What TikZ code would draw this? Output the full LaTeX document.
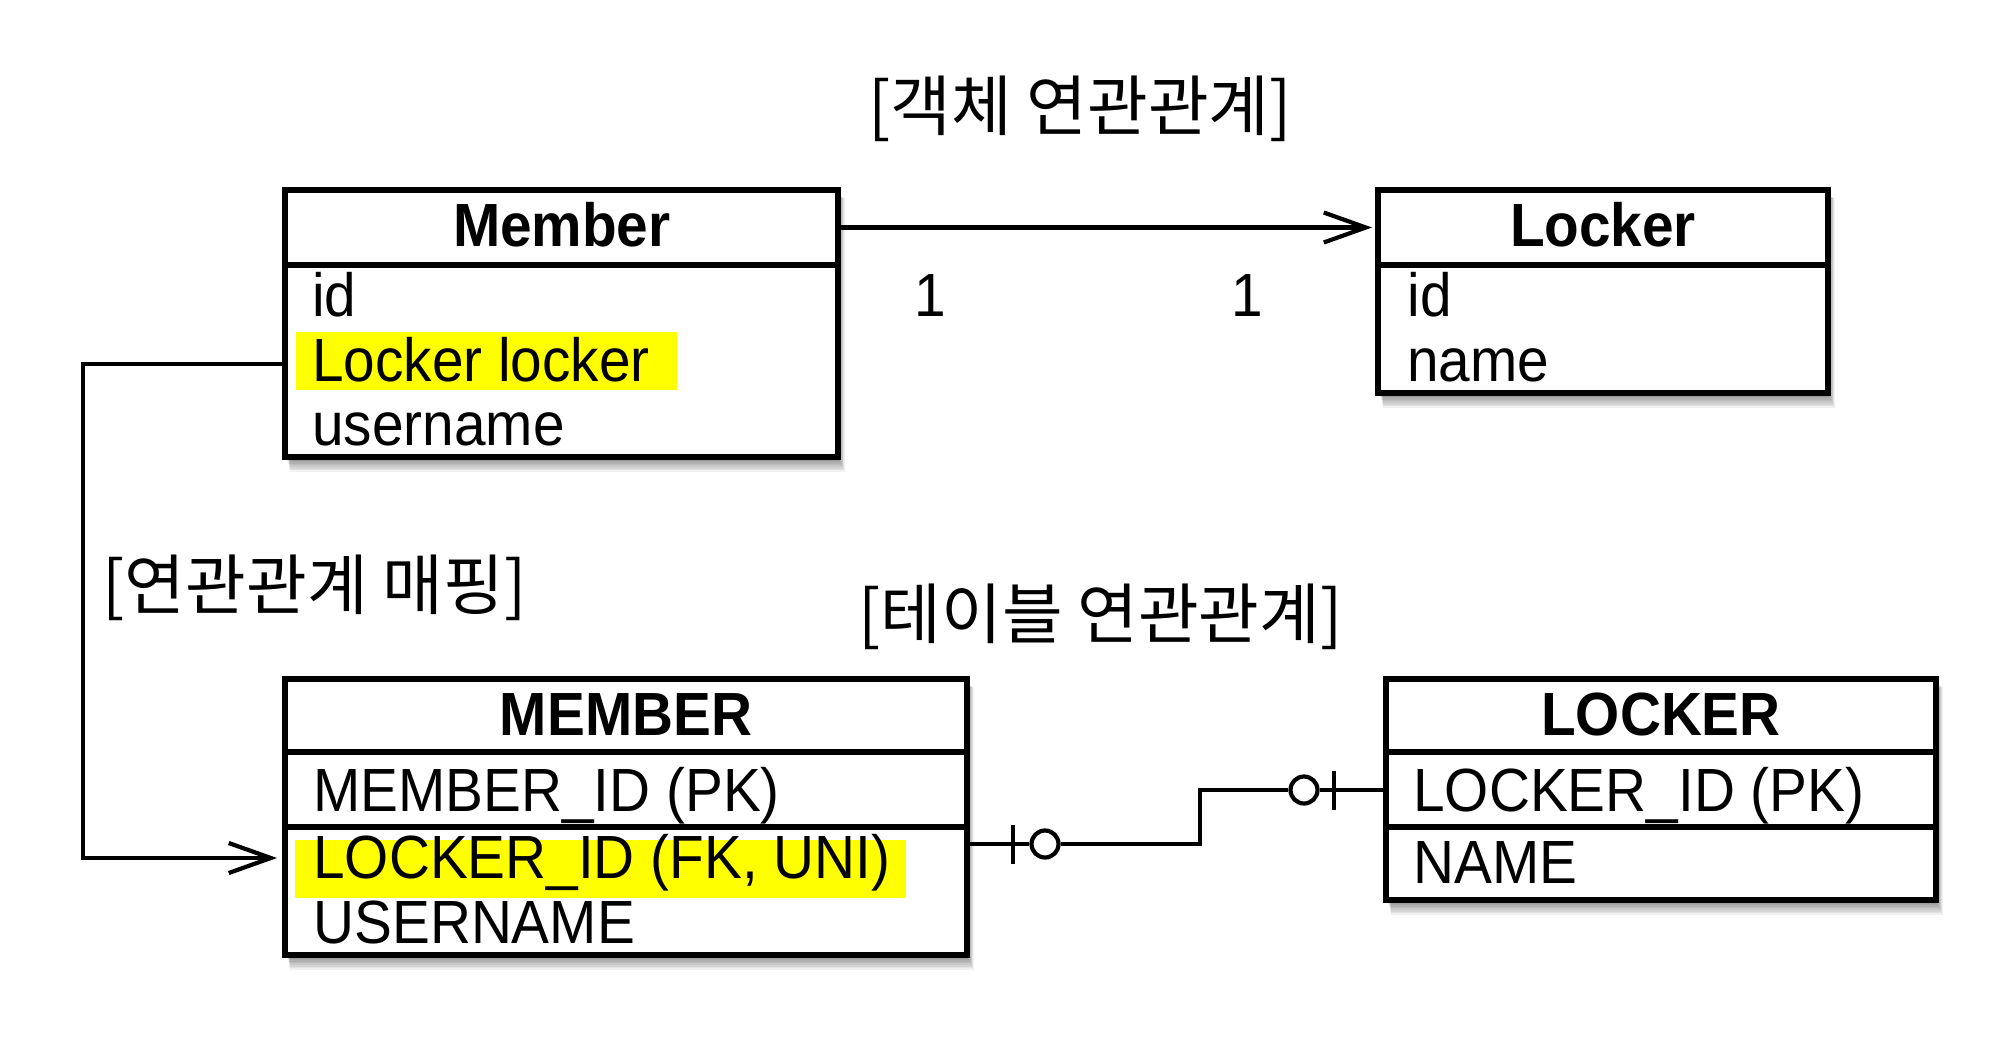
\documentclass[tikz,border=0pt]{standalone}
\usepackage{fontspec}
\setmainfont{Liberation Sans}[FakeStretch=0.93]
\newfontfamily\kr{Noto Sans CJK KR}
\usetikzlibrary{arrows.meta}
\definecolor{hl}{RGB}{255,255,0}
\tikzset{
  tbl/.style={draw=black, line width=2.6pt, fill=white, inner sep=0pt, outer sep=0pt, anchor=north west},
  divider/.style={line width=2.9pt},
  hdr/.style={font=\fontsize{30.5}{31}\selectfont\bfseries, anchor=base, inner sep=0pt},
  fld/.style={font=\fontsize{30.5}{31}\selectfont, anchor=base west, inner sep=0pt},
  ttl/.style={font=\kr\fontsize{33}{33}\selectfont, inner sep=0pt},
  hilite/.style={fill=hl, draw=none, inner sep=0pt, outer sep=0pt, anchor=north west},
  conn/.style={line width=2.1pt},
  barb/.style={-{Straight Barb[length=21pt,width=15pt,line width=2.1pt]}},
  ercirc/.style={circle, draw, line width=2.1pt, minimum size=13.5pt, inner sep=0pt, fill=white},
}
\newcommand\tblshadow[4]{%
  \foreach \k in {1,...,8}{%
    \fill[black, opacity=0.06] ({#1+2+\k*0.4},{#2+4+\k*0.5}) rectangle ({#3+\k*0.9},{#4+2+\k*1.6});
  }}
\begin{document}
\begin{tikzpicture}[x=0.5pt,y=-0.5pt]
\useasboundingbox (0,0) rectangle (2000,1050);

% titles
\node[ttl] (t1) at (1080,108.5) {[객체 연관관계]};
\node[ttl] (t2) at (314.5,587.5) {[연관관계 매핑]};
\node[ttl] (t3) at (1100.5,616.5) {[테이블 연관관계]};

% shadows
\tblshadow{285}{190}{838}{457}
\tblshadow{1378}{190}{1828}{393}
\tblshadow{285}{679}{967}{955}
\tblshadow{1386}{679}{1936}{900}

% boxes
\node[tbl, minimum width=553*0.5pt, minimum height=267*0.5pt] (mem) at (285,190) {};
\node[tbl, minimum width=450*0.5pt, minimum height=203*0.5pt] (lock) at (1378,190) {};
\node[tbl, minimum width=682*0.5pt, minimum height=276*0.5pt] (memT) at (285,679) {};
\node[tbl, minimum width=550*0.5pt, minimum height=221*0.5pt] (lockT) at (1386,679) {};

% highlights
\node[hilite, minimum width=381*0.5pt, minimum height=58*0.5pt] (hlA) at (296,332) {};
\node[hilite, minimum width=611*0.5pt, minimum height=58*0.5pt] (hlB) at (295,840) {};

% dividers
\draw[divider] (285,265) -- (838,265);
\draw[divider] (1378,265) -- (1828,265);
\draw[divider] (285,752) -- (967,752);
\draw[divider] (285,827) -- (967,827);
\draw[divider] (1386,752) -- (1936,752);
\draw[divider] (1386,827) -- (1936,827);

% object texts
\node[hdr] (memH) at (561.8,246.7) {Member};
\node[fld] (memA) at (312,316.7) {id};
\node[fld] (memB) at (312,381.7) {Locker locker};
\node[fld] (memC) at (312,445) {username};

\node[hdr] (lockH) at (1603,246.7) {Locker};
\node[fld] (lockA) at (1407,316.7) {id};
\node[fld] (lockB) at (1407,381.7) {name};

% table texts
\node[hdr] (memTH) at (626,735) {MEMBER};
\node[fld] (memTA) at (313,811.7) {MEMBER\_ID (PK)};
\node[fld] (memTB) at (313,878.3) {LOCKER\_ID (FK, UNI)};
\node[fld] (memTC) at (313,943.3) {USERNAME};

\node[hdr] (lockTH) at (1661,735) {LOCKER};
\node[fld] (lockTA) at (1413,811.7) {LOCKER\_ID (PK)};
\node[fld] (lockTB) at (1413,883.3) {NAME};

% multiplicities
\node[fld, anchor=base] (m1) at (930,316.7) {1};
\node[fld, anchor=base] (m2) at (1247,316.7) {1};

% object association arrow
\coordinate (kT) at (1100,227.5);
\draw[conn, barb, shorten >=3pt] (mem.east |- kT) -- (lock.west |- kT);

% mapping connector
\coordinate (kA) at (83,364);
\coordinate (kB) at (83,858);
\draw[conn, barb, shorten >=4pt] (mem.west |- kA) -- (kA) -- (kB) -- (memT.west |- kB);

% table relation (ER)
\node[ercirc] (c1) at (1045,844) {};
\node[ercirc] (c2) at (1304,790) {};
\coordinate (s1) at (1200,844);
\coordinate (s2) at (1200,790);
\draw[conn] (memT.east |- c1) -- (c1.west);
\draw[conn] (c1.east) -- (s1) -- (s2) -- (c2.west);
\draw[conn] (c2.east) -- (lockT.west |- c2);
\draw[conn] (1013,825) -- (1013,864);
\draw[conn] (1334,771) -- (1334,810);
\end{tikzpicture}
\end{document}
